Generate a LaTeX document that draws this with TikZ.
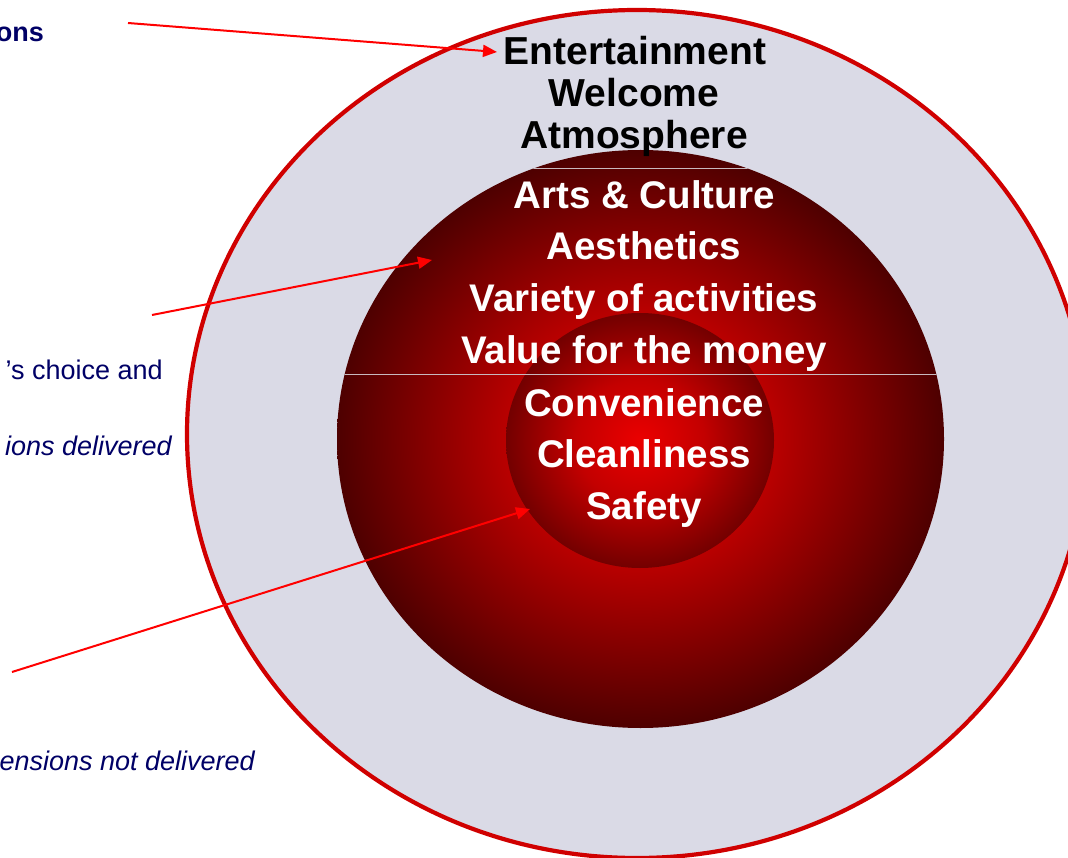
\documentclass[tikz,border=0pt]{standalone}
\usepackage{fontspec}
\setmainfont{Liberation Sans}
\usetikzlibrary{arrows.meta}

\definecolor{ringfill}{RGB}{218,218,230}
\definecolor{ringline}{RGB}{208,0,0}
\definecolor{navytext}{RGB}{0,0,102}
\definecolor{arrowred}{RGB}{255,0,0}
\definecolor{seplinecol}{RGB}{200,185,190}
\definecolor{midA}{RGB}{240,0,0}
\definecolor{midB}{RGB}{185,0,0}
\definecolor{midC}{RGB}{78,0,0}
\definecolor{coreA}{RGB}{235,0,0}
\definecolor{coreB}{RGB}{195,0,0}
\definecolor{coreC}{RGB}{115,0,0}

% glow of the middle ring and of the core
\pgfdeclareradialshading{midglow}{\pgfpoint{0bp}{0bp}}{color(0bp)=(midA); color(11bp)=(midB); color(25bp)=(midC); color(50bp)=(midC)}
\pgfdeclareradialshading{coreglow}{\pgfpoint{0bp}{0bp}}{color(0bp)=(coreA); color(12bp)=(coreB); color(25bp)=(coreC); color(50bp)=(coreC)}

\begin{document}
\begin{tikzpicture}[x=1pt,y=-1pt,
  outerlabel/.style={anchor=base, inner sep=0pt, text=black,
    font=\fontsize{39}{42}\selectfont\bfseries},
  innerlabel/.style={anchor=base, inner sep=0pt, text=white,
    font=\fontsize{38.5}{46}\selectfont\bfseries},
  sidenote/.style={anchor=base east, inner sep=0pt, text=navytext,
    font=\fontsize{27}{32}\selectfont},
  pointer/.style={draw=arrowred, line width=2pt,
    -{Triangle[length=14pt,width=12pt]}},
  sepline/.style={draw=seplinecol, line width=0.9pt}]

\useasboundingbox (0,0) rectangle (1068,858);
\clip (0,0) rectangle (1068,858);
\fill[white] (0,0) rectangle (1068,858);

% rings
\draw[draw=ringline, line width=4.2pt, fill=ringfill]
  (637,434) ellipse [x radius=450, y radius=424];
\shade[shading=midglow] (640.5,439) ellipse [x radius=303.5, y radius=289];
\shade[shading=coreglow] (640,440.5) ellipse [x radius=134, y radius=127.5];

% thin separators inside the middle ring
\begin{scope}
  \clip (640.5,439) ellipse [x radius=303.5, y radius=289];
  \draw[sepline] (330,168) -- (950,168);
  \draw[sepline] (330,374) -- (950,374);
\end{scope}

% outer ring labels
\node[outerlabel] (ent) at (635,65) {Entertainment};
\node[outerlabel] (wel) at (634,107) {Welcome};
\node[outerlabel] (atm) at (634,149) {Atmosphere};

% middle ring and core labels
\node[innerlabel] (art) at (644,209) {Arts \& Culture};
\node[innerlabel] (aes) at (644,260) {Aesthetics};
\node[innerlabel] (var) at (644,312) {Variety of activities};
\node[innerlabel] (val) at (644,363) {Value for the money};
\node[innerlabel] (con) at (644,416) {Convenience};
\node[innerlabel] (cle) at (644,467) {Cleanliness};
\node[innerlabel] (saf) at (644,519) {Safety};

% notes on the left
\node[sidenote, font=\fontsize{27}{32}\selectfont\bfseries] (n1) at (44,42) {ons};
\node[sidenote] (n2) at (163,380) {’s choice and};
\node[sidenote, font=\fontsize{27}{32}\selectfont\itshape] (n3) at (172,455) {ions delivered};
\node[sidenote, font=\fontsize{27}{32}\selectfont\itshape] (n4) at (255,770) {ensions not delivered};

% pointers
\coordinate (tailA) at (128,23);
\coordinate (tipA) at (497,52);
\coordinate (tailB) at (152,315);
\coordinate (tipB) at (432,260);
\coordinate (tailC) at (12,672);
\coordinate (tipC) at (530,509);
\draw[pointer] (tailA) -- (tipA);
\draw[pointer] (tailB) -- (tipB);
\draw[pointer] (tailC) -- (tipC);
\end{tikzpicture}
\end{document}
